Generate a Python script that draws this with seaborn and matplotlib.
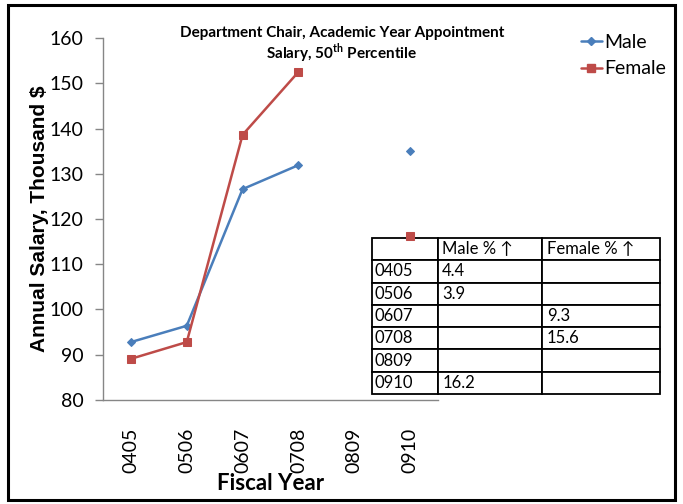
import numpy as np
import pandas as pd
import seaborn as sns
import matplotlib
matplotlib.use("Agg")
import matplotlib.pyplot as plt
from matplotlib.lines import Line2D
from matplotlib.patches import Rectangle

# Data
years = ["0405", "0506", "0607", "0708", "0809", "0910"]
male = [92.8, 96.4, 126.6, 131.9, np.nan, 135.0]
female = [89.1, 92.8, 138.6, 152.5, np.nan, 116.2]

table_header = ["", "Male % \u2191", "Female % \u2191"]
male_pct = ["4.4", "3.9", "", "", "", "16.2"]
female_pct = ["", "", "9.3", "15.6", "", ""]

MALE_C = "#4A7EBB"
FEMALE_C = "#BE4B48"

sns.set_theme(style="white")
FONT = ["Lato", "DejaVu Sans"]
plt.rcParams["font.family"] = FONT
plt.rcParams["text.color"] = "black"
plt.rcParams["axes.labelcolor"] = "black"
plt.rcParams["xtick.color"] = "black"
plt.rcParams["ytick.color"] = "black"
plt.rcParams["mathtext.fontset"] = "custom"
plt.rcParams["mathtext.bf"] = "Lato:bold"
plt.rcParams["mathtext.rm"] = "Lato"


def to_long(values, label):
    rows = []
    seg = 0
    for i, v in enumerate(values):
        if np.isnan(v):
            seg += 1
            continue
        rows.append({"pos": i, "val": v, "sex": label, "seg": seg})
    return pd.DataFrame(rows)


df = pd.concat([to_long(male, "Male"), to_long(female, "Female")], ignore_index=True)

fig = plt.figure(figsize=(6.83, 5.04), dpi=100)
ax = fig.add_axes([103 / 683, 1 - 400 / 504, (438 - 103) / 683, (400 - 38) / 504])

sns.lineplot(data=df[df.sex == "Male"], x="pos", y="val", units="seg", estimator=None,
             color=MALE_C, lw=1.8, marker="D", markersize=4.5, markeredgecolor=MALE_C,
             ax=ax, legend=False)
sns.lineplot(data=df[df.sex == "Female"], x="pos", y="val", units="seg", estimator=None,
             color=FEMALE_C, lw=1.8, marker="s", markersize=6, markeredgecolor=FEMALE_C,
             ax=ax, legend=False)

ax.set_xlim(-0.5, 5.5)
ax.set_ylim(80, 160)
ax.set_yticks(range(80, 161, 10))
ax.set_xticks(range(len(years)))
ax.set_xticklabels(years, rotation=90)
ax.set_xticks(np.arange(-0.5, 5.6, 1), minor=True)
ax.tick_params(axis="x", which="major", length=0, pad=20, labelsize=14)
ax.tick_params(axis="x", which="minor", length=6, width=1, color="#868686", direction="out")
ax.tick_params(axis="y", length=6, width=1, color="#868686", direction="out", left=True,
               labelsize=14, pad=8, labelcolor="black")
ax.tick_params(axis="x", labelcolor="black")
for s in ["top", "right"]:
    ax.spines[s].set_visible(False)
for s in ["left", "bottom"]:
    ax.spines[s].set_color("#868686")
    ax.spines[s].set_linewidth(1)

ax.set_xlabel("Fiscal Year", fontsize=16, fontweight="bold", labelpad=0)
ax.set_ylabel("Annual Salary, Thousand $", fontsize=15, fontweight="bold",
              family=["Liberation Sans", "DejaVu Sans"])
ax.yaxis.set_label_coords(-0.16, 0.5)

fig.text(342 / 683, 1 - 33 / 504, "Department Chair, Academic Year Appointment",
         ha="center", va="center", fontsize=11, fontweight="bold")
fig.text(342 / 683, 1 - 53 / 504, r"Salary, 50$^{\mathbf{th}}$ Percentile",
         ha="center", va="center", fontsize=11, fontweight="bold")

# Legend
handles = [Line2D([], [], color=MALE_C, lw=1.8, marker="D", markersize=4.5),
           Line2D([], [], color=FEMALE_C, lw=1.8, marker="s", markersize=6)]
fig.legend(handles, ["Male", "Female"], loc="upper left",
           bbox_to_anchor=(573 / 683, 1 - 26 / 504), frameon=False, fontsize=14,
           handlelength=1.1, handletextpad=0.1, labelspacing=0.5, borderaxespad=0)

# Table of percentage increases
cells = [table_header] + [[y, m, f] for y, m, f in zip(years, male_pct, female_pct)]
tx0 = (372 - 103) / 335
tw = (660 - 372) / 335
ty0 = (400 - 394) / 362
th = (394 - 238) / 362
tbl = ax.table(cellText=cells, cellLoc="left", colWidths=[66, 104, 118],
               bbox=[tx0, ty0, tw, th])
tbl.auto_set_font_size(False)
for (r, c), cell in tbl.get_celld().items():
    cell.set_edgecolor("black")
    cell.set_linewidth(1.3)
    cell.set_facecolor("white")
    cell.get_text().set_fontsize(12)
    cell.get_text().set_family(FONT)
    cell.get_text().set_color("black")
    cell.PAD = 0.04
tbl.set_zorder(1)
for line in ax.lines:
    line.set_zorder(3)

# Outer chart border
fig.patches.append(Rectangle((8 / 683, 1 - 500 / 504), (675 - 8) / 683, (500 - 5) / 504,
                             transform=fig.transFigure, fill=False, edgecolor="black",
                             lw=2.2))

fig.savefig("out.png", dpi=100)
